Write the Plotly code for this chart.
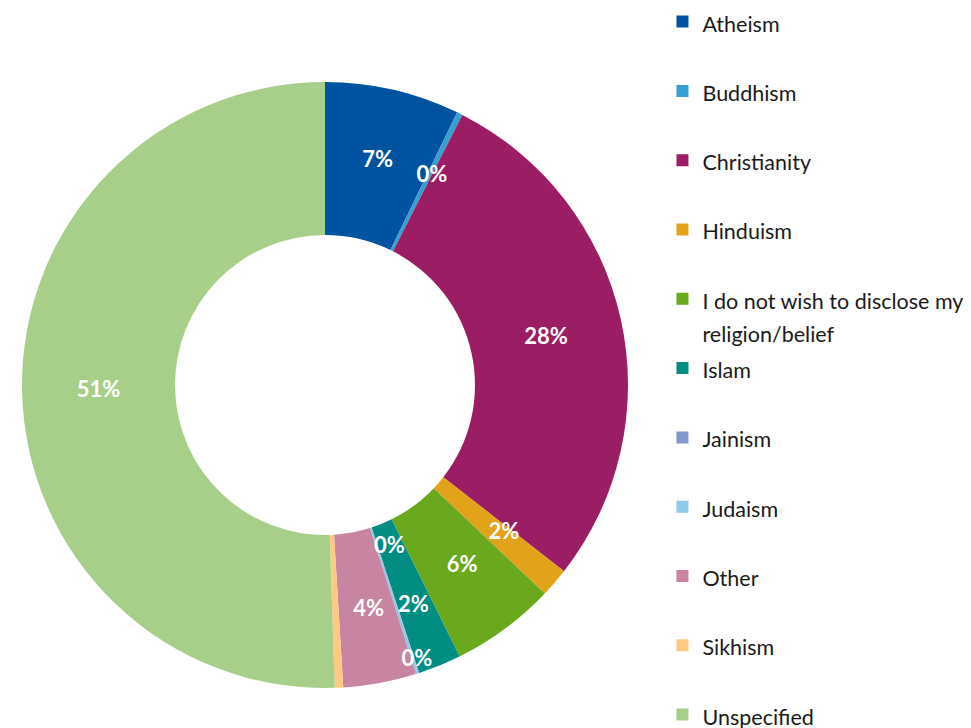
import math
import plotly.graph_objects as go

categories = ["Atheism", "Buddhism", "Christianity", "Hinduism",
              "I do not wish to disclose my<br>religion/belief", "Islam",
              "Jainism", "Judaism", "Other", "Sikhism", "Unspecified"]
shares = [7.2, 0.3, 28.1, 1.55, 5.6, 2.3, 0.03, 0.15, 3.9, 0.45, 50.6]
colours = ["#0053A1", "#38A0D0", "#9B1D63", "#E2A21A", "#6AA81E", "#008D82",
           "#8497CB", "#8ECBEA", "#C785A1", "#FFC985", "#A7CF8A"]

HOLE = 0.495
RADIUS = 303          # px, outer radius of the donut
LINE_H = 15.0         # px the visible label moves per padding line
NBSP_W = 3.2          # px the visible label moves per padding nbsp
NB = "\u00a0"
PCT = "%{percent:.0%}"
DOMAIN = dict(x=[14 / 971, 620 / 971], y=[48 / 728, 654 / 728])


def pad_label(dx, dy):
    """Pad a label with blank lines / nbsp so plotly's centred text moves by (dx, dy)."""
    n = int(round(abs(dy) / LINE_H))
    m = int(round(abs(dx) / NBSP_W))
    line = (NB * m + PCT) if dx > 0 else (PCT + NB * m)
    if dy > 0:
        return (NB + "<br>") * n + line
    return line + ("<br>" + NB) * n


# Plotly centres labels of narrow slices near the rim; move them to mid ring
# like the Excel original does.
total = sum(shares)
ring = 1 - HOLE
label_fmt = []
cum = 0.0
for v in shares:
    half = math.pi * v / total
    mid = 2 * math.pi * (cum + v / 2) / total
    cum += v
    r_ins = min(math.sin(half) / (1 + math.sin(half)), ring / 2)
    shift = ((1 - r_ins) - (1 - ring / 2)) * RADIUS
    label_fmt.append(pad_label(-shift * math.sin(mid), shift * math.cos(mid)))

label_fmt[6] = pad_label(-34, -136)      # Jainism label sits towards the hole
label_fmt[7] = pad_label(0, -12)         # Judaism label sits near the rim
label_fmt[9] = ""                        # Sikhism label not shown in original

# legend text: smaller span inside a taller line so entries get Excel-like spacing
legend_labels = []
for c in categories:
    parts = c.split("<br>")
    txt = "<br>".join(f"<span style='font-size:21.5px'>{p}</span>" for p in parts)
    if len(parts) == 1:
        txt += "<br> "
    legend_labels.append(txt)

fig = go.Figure()
# coloured ring + legend
fig.add_trace(go.Pie(
    labels=legend_labels,
    values=shares,
    hole=HOLE,
    sort=False,
    direction="clockwise",
    rotation=0,
    marker=dict(colors=colours, line=dict(width=0)),
    textinfo="none",
    domain=DOMAIN,
    hoverinfo="label+percent",
))
# same ring again, transparent, so the % labels are drawn above every slice
fig.add_trace(go.Pie(
    labels=legend_labels,
    values=shares,
    hole=HOLE,
    sort=False,
    direction="clockwise",
    rotation=0,
    marker=dict(colors=["rgba(0,0,0,0)"] * len(shares), line=dict(width=0)),
    texttemplate=label_fmt,
    textposition="inside",
    insidetextorientation="horizontal",
    textfont=dict(family="Lato", size=22, color="white", weight="bold"),
    domain=DOMAIN,
    showlegend=False,
    hoverinfo="skip",
))

fig.update_layout(
    width=971, height=728,
    margin=dict(l=0, r=0, t=0, b=0, autoexpand=False),
    paper_bgcolor="white",
    plot_bgcolor="white",
    uniformtext=dict(minsize=22, mode="show"),
    showlegend=True,
    legend=dict(
        x=0.674, y=1.013, xanchor="left", yanchor="top",
        font=dict(family="Lato", size=25.5, color="#1a1a1a"),
        valign="top",
        maxheight=900,
        bgcolor="rgba(0,0,0,0)",
    ),
)

fig.write_html("out.html")
